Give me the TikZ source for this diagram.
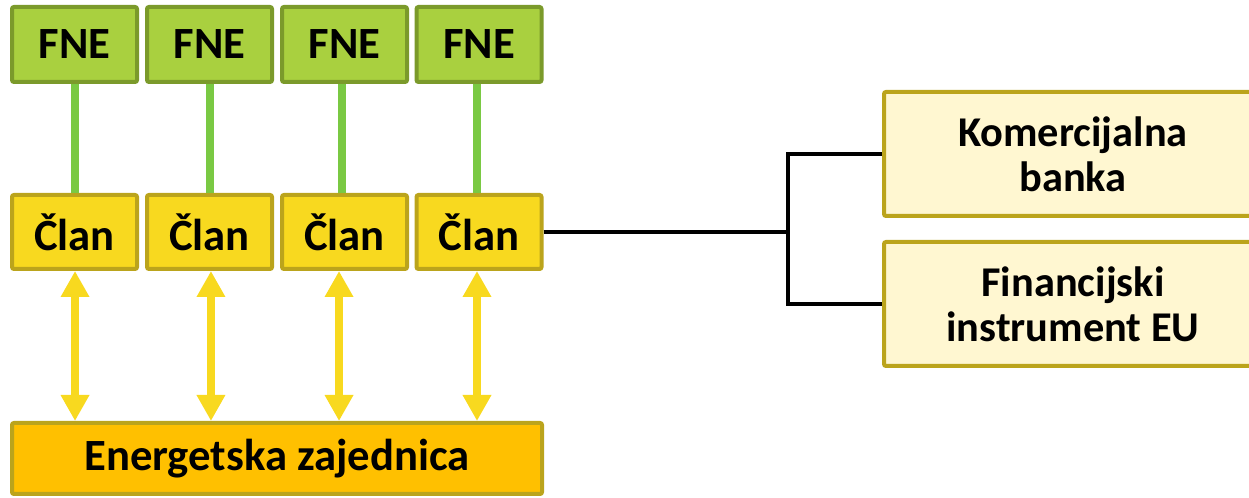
\documentclass[tikz,border=0pt]{standalone}
\usepackage{fontspec}
\setmainfont{Carlito}
\usetikzlibrary{arrows.meta}
\definecolor{fneFill}{HTML}{A9D03F}
\definecolor{fneLine}{HTML}{7B9A2B}
\definecolor{greenLink}{HTML}{7AC943}
\definecolor{clanFill}{HTML}{F8D91F}
\definecolor{oliveLine}{HTML}{BBA41C}
\definecolor{ezFill}{HTML}{FFC000}
\definecolor{creamFill}{HTML}{FFF7D1}
\definecolor{arrowYellow}{HTML}{F8D91F}
\tikzset{
  box/.style={draw, line width=3pt, rounded corners=1.5pt, inner sep=0pt, align=center, font=\bfseries\fontsize{33.5}{38}\selectfont},
  fnebox/.style={box, fill=fneFill, draw=fneLine, minimum width=93.75pt, minimum height=56.25pt},
  clanbox/.style={box, fill=clanFill, draw=oliveLine, minimum width=93.75pt, minimum height=55.5pt},
  ezbox/.style={box, fill=ezFill, draw=oliveLine, minimum width=397.5pt, minimum height=53.25pt},
  finbox/.style={box, fill=creamFill, draw=oliveLine, minimum width=283.5pt, minimum height=93pt, font=\bfseries\fontsize{31.8}{33.75}\selectfont},
  greenlink/.style={draw=greenLink, line width=6pt},
  duplex/.style={draw=arrowYellow, line width=6pt, {Triangle[width=20.25pt,length=19.5pt]}-{Triangle[width=20.25pt,length=19.5pt]}},
  wire/.style={draw=black, line width=3.3pt}
}
\begin{document}
\begin{tikzpicture}[x=0.75pt,y=-0.75pt]
\useasboundingbox (0,0) rectangle (1249,498);
\clip (0,0) rectangle (1249,498);
% FNE row
\node[fnebox] (f1) at (74.5,44.5) {FNE};
\node[fnebox] (f2) at (209.5,44.5) {FNE};
\node[fnebox] (f3) at (344.5,44.5) {FNE};
\node[fnebox] (f4) at (479,44.5) {FNE};
% Clan row
\node[clanbox] (c1) at (74.5,232) {Član};
\node[clanbox] (c2) at (209.5,232) {Član};
\node[clanbox] (c3) at (344.5,232) {Član};
\node[clanbox] (c4) at (479,232) {Član};
% Energetska zajednica
\node[ezbox] (ez) at (277,458.5) {Energetska zajednica};
% right boxes
\node[finbox] (kb) at (1073,154) {Komercijalna\\banka};
\node[finbox] (fi) at (1073,304) {Financijski\\instrument EU};
% green links
\draw[greenlink] ([xshift=0.4pt]f1.south) -- ([xshift=0.4pt]c1.north);
\draw[greenlink] (f2.south) -- (c2.north);
\draw[greenlink] ([xshift=-1.9pt]f3.south) -- ([xshift=-1.9pt]c3.north);
\draw[greenlink] ([xshift=-1.5pt]f4.south) -- ([xshift=-1.5pt]c4.north);
% yellow double arrows
\draw[duplex] ([xshift=0.4pt]c1.south) -- ([xshift=0.4pt]c1.south |- ez.north);
\draw[duplex] ([xshift=1.1pt]c2.south) -- ([xshift=1.1pt]c2.south |- ez.north);
\draw[duplex] ([xshift=-4.1pt]c3.south) -- ([xshift=-4.1pt]c3.south |- ez.north);
\draw[duplex] ([xshift=-1.5pt]c4.south) -- ([xshift=-1.5pt]c4.south |- ez.north);
% black connector
\coordinate (j) at (788,232);
\draw[wire] (c4.east) -- (j);
\draw[wire] (kb.west) -| (j) |- (fi.west);
\end{tikzpicture}
\end{document}
